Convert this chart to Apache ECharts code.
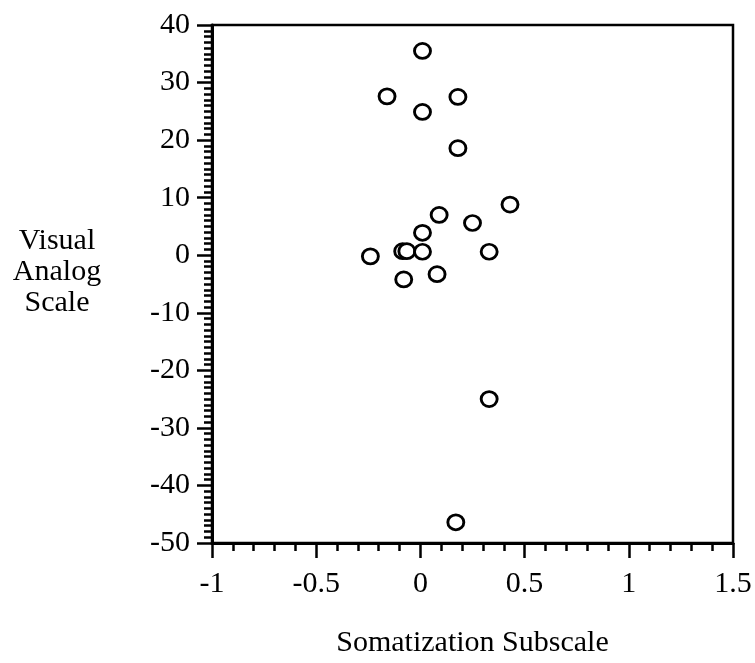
<!DOCTYPE html>
<html>
<head>
<meta charset="utf-8">
<script src="https://cdn.jsdelivr.net/npm/echarts@6/dist/echarts.min.js"></script>
<style>
  html, body { margin: 0; padding: 0; background: #fff; }
  #chart { width: 755px; height: 663px; }
</style>
</head>
<body>
<div id="chart"></div>
<script>
// Somatization subscale score vs. visual analog scale change
const somatization = [0.01, -0.16, 0.18, 0.01, 0.18, 0.09, 0.25, 0.01, -0.24, -0.085, -0.065, 0.01, 0.33, -0.08, 0.08, 0.43, 0.33, 0.17];
const visualAnalog = [35.5, 27.6, 27.5, 24.9, 18.6, 7.0, 5.6, 3.9, -0.2, 0.7, 0.7, 0.6, 0.6, -4.2, -3.3, 8.8, -25.0, -46.4];

const xTicks = { min: -1, max: 1.5, step: 0.5 };
const yTicks = { min: -50, max: 40, step: 10 };

const xTitle = 'Somatization Subscale';
const yTitle = 'Visual\nAnalog\nScale';

const points = somatization.map((x, i) => [x, visualAnalog[i]]);

const FONT = 'Liberation Serif, Times New Roman, serif';
const chart = echarts.init(document.getElementById('chart'), null, { renderer: 'canvas' });

const axisCommon = {
  type: 'value',
  axisLine: { show: true, onZero: false, lineStyle: { color: '#000', width: 3 } },
  axisTick: { show: true, inside: false, length: 15, lineStyle: { color: '#000', width: 2.5 } },
  minorTick: { show: true, length: 8, lineStyle: { color: '#000', width: 2.5 } },
  splitLine: { show: false },
  minorSplitLine: { show: false },
  axisLabel: { color: '#000', fontFamily: FONT, fontSize: 30 }
};

chart.setOption({
  animation: false,
  backgroundColor: '#fff',
  grid: {
    left: 212, right: 22, top: 25, bottom: 119,
    show: true, borderColor: '#000', borderWidth: 2.5, backgroundColor: 'transparent'
  },
  xAxis: Object.assign({}, axisCommon, {
    min: xTicks.min, max: xTicks.max, interval: xTicks.step,
    minorTick: Object.assign({}, axisCommon.minorTick, { splitNumber: 5 }),
    axisLabel: Object.assign({}, axisCommon.axisLabel, { margin: 26 }),
    name: xTitle,
    nameLocation: 'middle',
    nameGap: 100,
    nameTextStyle: { color: '#000', fontFamily: FONT, fontSize: 30, verticalAlign: 'middle', align: 'center' }
  }),
  yAxis: Object.assign({}, axisCommon, {
    min: yTicks.min, max: yTicks.max, interval: yTicks.step,
    minorTick: Object.assign({}, axisCommon.minorTick, { splitNumber: 10 }),
    axisLabel: Object.assign({}, axisCommon.axisLabel, { margin: 22 })
  }),
  // three-line vertical axis title, set horizontally to the left of the plot
  graphic: [{
    type: 'text',
    x: 57,
    y: 226,
    style: {
      text: yTitle,
      fill: '#000',
      fontFamily: FONT,
      fontSize: 30,
      lineHeight: 31,
      align: 'center',
      verticalAlign: 'top'
    }
  }],
  series: [{
    type: 'scatter',
    data: points,
    symbol: 'circle',
    symbolSize: [16, 15],
    itemStyle: { color: '#fff', borderColor: '#000', borderWidth: 2.8, opacity: 1 },
    emphasis: { disabled: true }
  }]
});
</script>
</body>
</html>
